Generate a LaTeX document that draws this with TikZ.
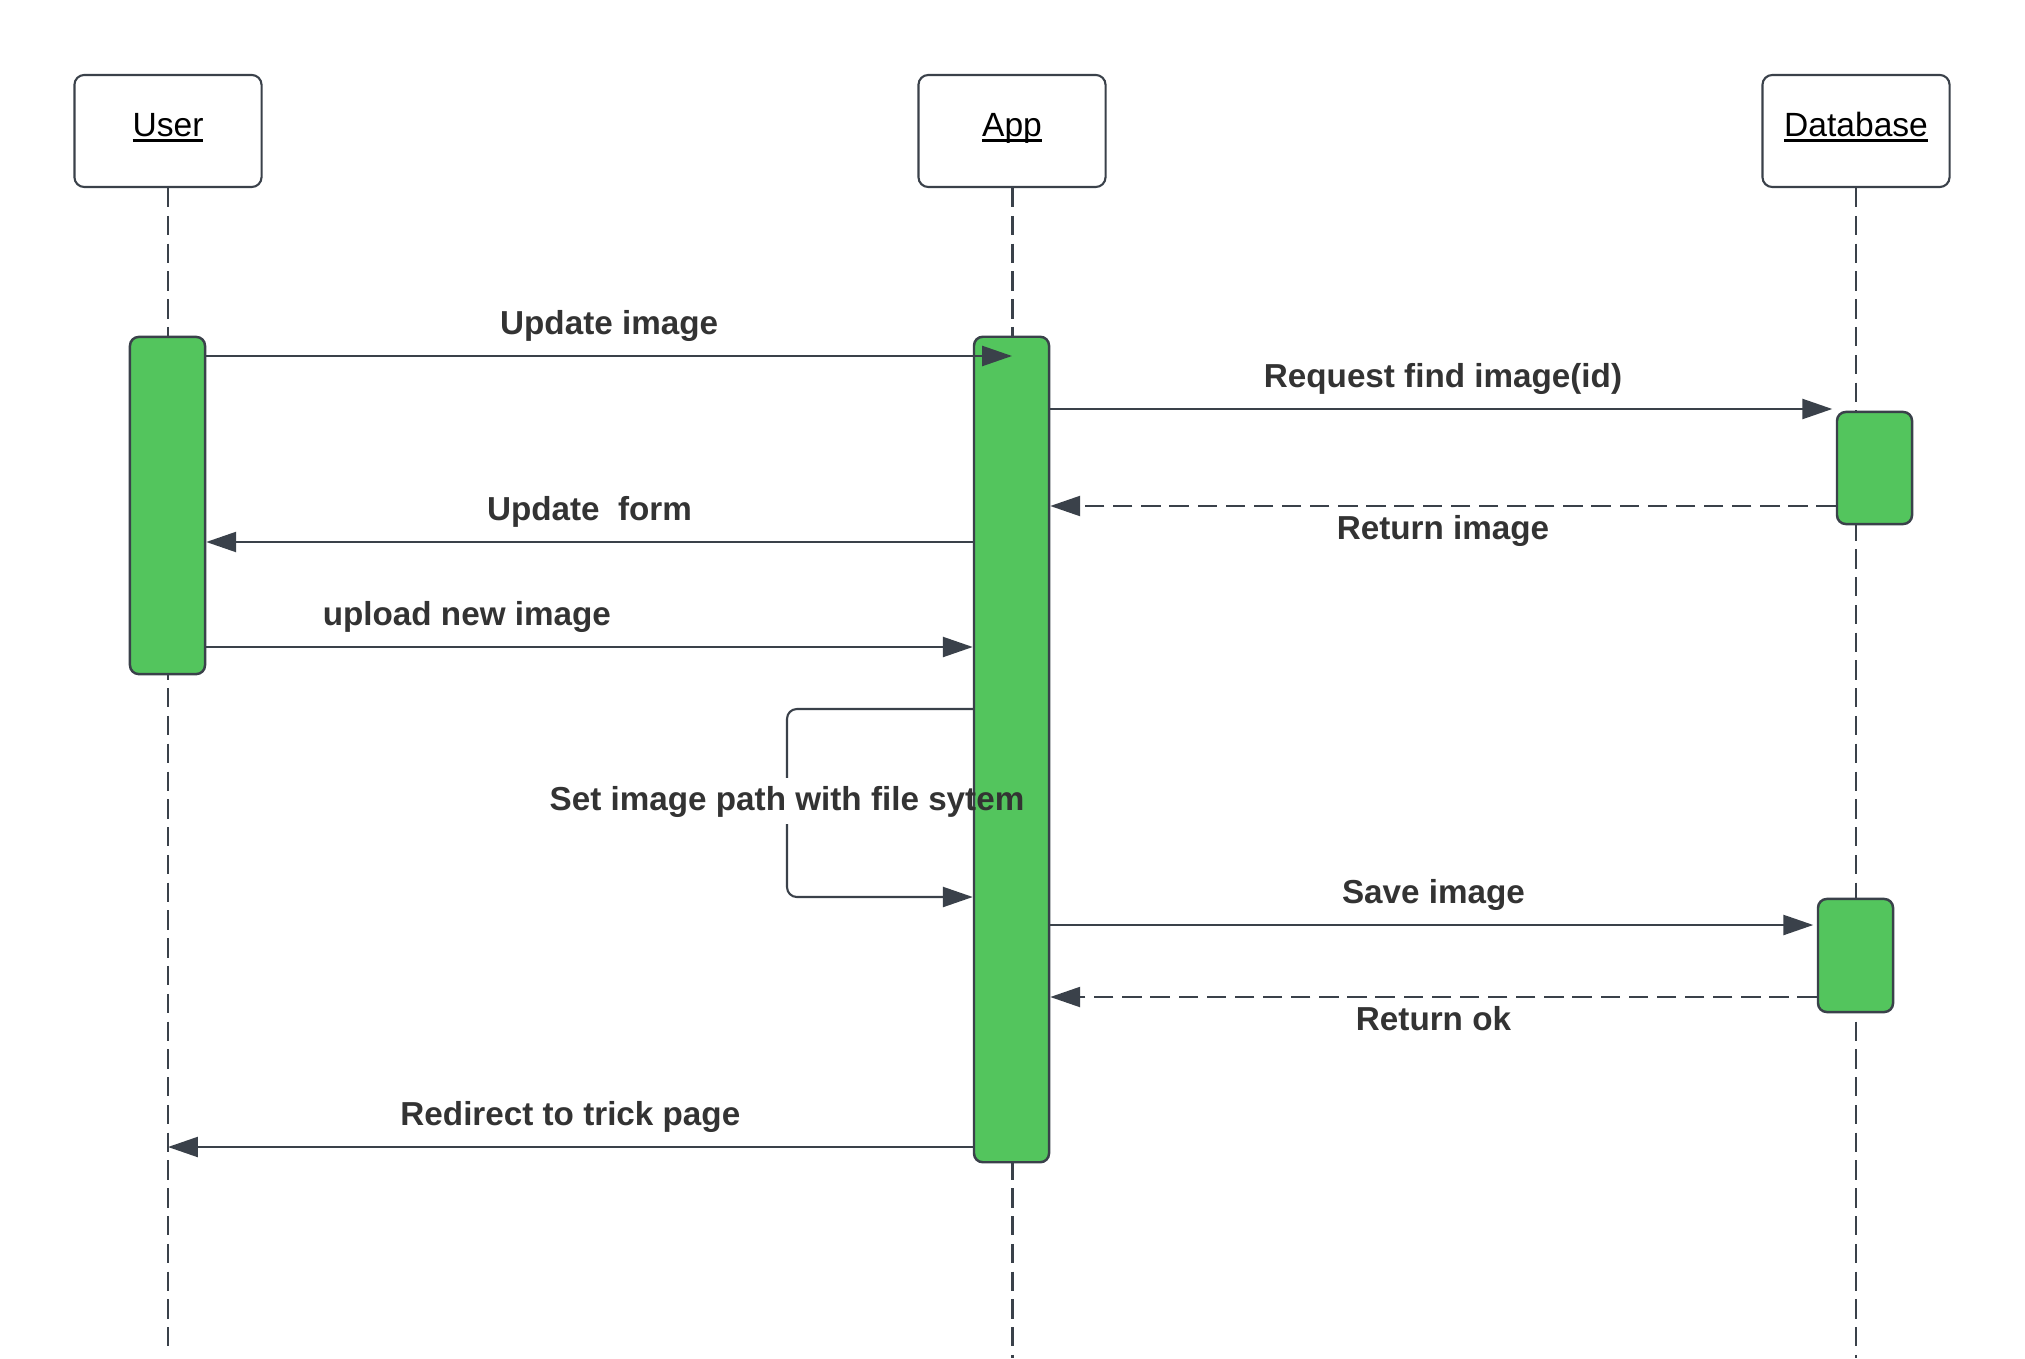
\documentclass[tikz,border=0pt]{standalone}
\usepackage{fontspec}
\setmainfont{Liberation Sans}
\usetikzlibrary{arrows.meta,calc}

\definecolor{actgreen}{RGB}{83,197,93}
\definecolor{edgegray}{RGB}{58,65,74}
\definecolor{labelgray}{RGB}{51,51,51}

\newcommand{\ulname}[1]{\setbox0=\hbox{#1}\rlap{\rule[-1.5pt]{\wd0}{0.7pt}}\box0}

\tikzset{
  lifehead/.style={draw=edgegray, line width=0.6pt, rounded corners=2.8pt,
    minimum width=1.87cm, minimum height=1.12cm, inner sep=0pt,
    text height=0.73em, text depth=0.42em, font=\fontsize{9.55pt}{11pt}\selectfont},
  lifeline/.style={draw=edgegray, line width=0.6pt, dash pattern=on 5.5pt off 2.4pt},
  actbar/.style={draw=edgegray, fill=actgreen, line width=0.7pt, rounded corners=2.5pt,
    minimum width=0.75cm, inner sep=0pt},
  msg/.style={draw=edgegray, line width=0.6pt, -{Triangle[length=8.5pt,width=5.7pt]}},
  reply/.style={msg, dash pattern=on 5.5pt off 2.5pt},
  msglabel/.style={text=labelgray, font=\fontsize{9.45pt}{11pt}\selectfont\bfseries,
    inner sep=0pt, text height=0.73em, text depth=0.21em}
}

\begin{document}
\begin{tikzpicture}[x=0.01cm, y=-0.01cm]
        \useasboundingbox (0, 0) rectangle (2025, 1358);
        % lifelines
        \node[lifehead](user) at (168, 131) {\ulname{User}};
        \node[lifehead](app) at (1012, 131) {\ulname{App}};
        \node[lifehead](db) at (1856, 131) {\ulname{Database}};
        \coordinate(userend) at (168, 1350);
        \coordinate(append) at (1012, 1358);
        \coordinate(dbend) at (1856, 1358);
        \draw[lifeline] (user) -- (userend);
        \draw[lifeline, line width=0.85pt] (app) -- (append);
        \draw[lifeline] (db) -- (dbend);
        % activation bars
        \node[actbar, minimum height=3.37cm](useract) at (167.5, 505.5) {};
        \node[actbar, minimum height=8.25cm](appact) at (1011.5, 749.5) {};
        \node[actbar, minimum height=1.12cm](dbact1) at (1874.5, 468) {};
        \node[actbar, minimum height=1.13cm](dbact2) at (1855.5, 955.5) {};
        % message levels
        \coordinate(y1) at (0, 356);
        \coordinate(y2) at (0, 409);
        \coordinate(y3) at (0, 506);
        \coordinate(y4) at (0, 542);
        \coordinate(y5) at (0, 647);
        \coordinate(y6) at (0, 709);
        \coordinate(y7) at (0, 897);
        \coordinate(y8) at (0, 925);
        \coordinate(y9) at (0, 997);
        \coordinate(y10) at (0, 1147);
        % messages
        \draw[msg] (useract.east |- y1) -- (app |- y1)
          node[msglabel, midway, above=3.6pt] {Update image};
        \draw[msg, shorten >=1pt] (appact.east |- y2) -- (dbact1.west |- y2)
          node[msglabel, midway, above=3.6pt] {Request find image(id)};
        \draw[reply] (dbact1.west |- y3) -- (appact.east |- y3)
          node[msglabel, midway, below=1.8pt] {Return image};
        \draw[msg] (appact.west |- y4) -- (useract.east |- y4)
          node[msglabel, midway, above=3.6pt] {Update\ \ form};
        \draw[msg] (useract.east |- y5) -- (appact.west |- y5)
          node[msglabel, pos=0.34, above=3.6pt] {upload new image};
        \node[msglabel, inner sep=1.7pt](looplbl) at (787, 801) {Set image path with file sytem};
        \draw[draw=edgegray, line width=0.6pt, rounded corners=2.8pt] (appact.west |- y6) -| (looplbl.north);
        \draw[msg, rounded corners=2.8pt] (looplbl.south) |- (appact.west |- y7);
        \draw[msg, shorten >=1pt] (appact.east |- y8) -- (dbact2.west |- y8)
          node[msglabel, midway, above=3.6pt] {Save image};
        \draw[reply] (dbact2.west |- y9) -- (appact.east |- y9)
          node[msglabel, midway, below=1.8pt] {Return ok};
        \draw[msg] (appact.west |- y10) -- (user |- y10)
          node[msglabel, midway, above=3.6pt] {Redirect to trick page};
\end{tikzpicture}
\end{document}
